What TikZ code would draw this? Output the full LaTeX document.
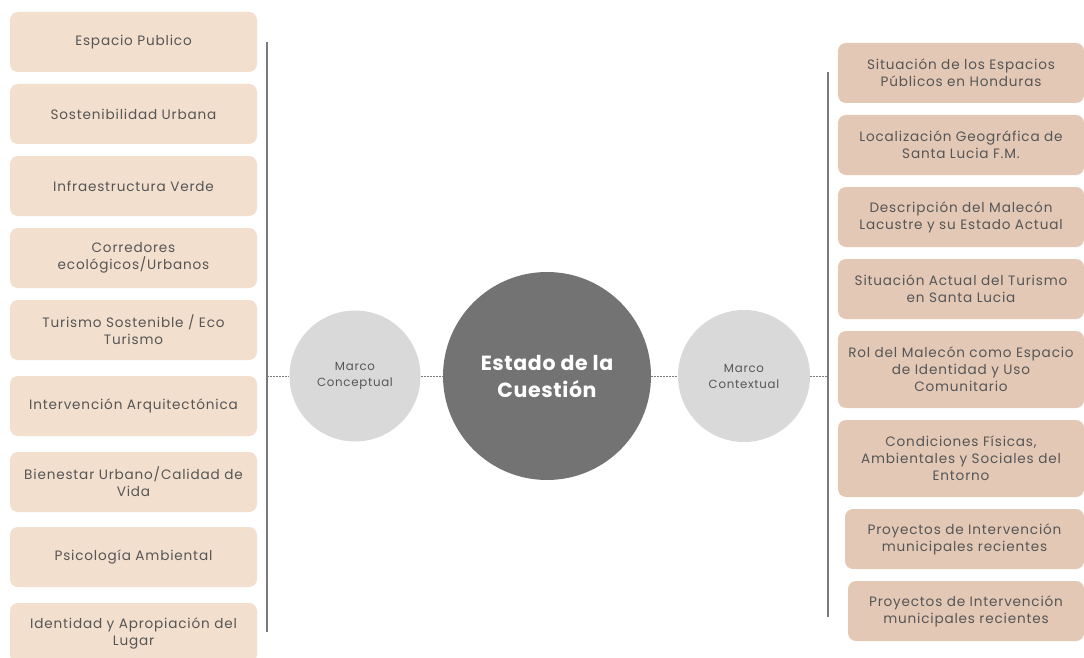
\documentclass[tikz,border=0pt]{standalone}
\usepackage{fontspec}
\setmainfont{Poppins}[LetterSpace=6]
\newfontfamily\titlefont{Poppins}[LetterSpace=3]
\usetikzlibrary{positioning}

\definecolor{peach}{HTML}{F2DFCE}
\definecolor{sand}{HTML}{E3C8B6}
\definecolor{darkcirc}{HTML}{737373}
\definecolor{lightcirc}{HTML}{D9D9D9}
\definecolor{txtgray}{HTML}{565656}
\definecolor{linegray}{HTML}{7A7A7A}

\begin{document}
\begin{tikzpicture}[x=1pt,y=-1pt,font=\fontsize{13.6}{17}\selectfont,
semithick]

\tikzstyle{leftbox}=[fill=peach,draw=none,rounded corners=8pt,text=txtgray,
  minimum width=247pt,minimum height=60pt,align=center]
\tikzstyle{rightbox}=[fill=sand,draw=none,rounded corners=8pt,text=txtgray,
  minimum width=246pt,minimum height=60pt,align=center]
\tikzstyle{marco}=[circle,fill=lightcirc,draw=none,text=txtgray,
  minimum size=131pt,align=center,font=\fontsize{11.8}{16}\selectfont]
\tikzstyle{rail}=[draw=linegray,line width=1.2pt]
\tikzstyle{link}=[draw=linegray,dashed,dash pattern=on 2pt off 1pt,line width=0.8pt]

\useasboundingbox (0,0) rectangle (1084,658);

% marco conceptual
\node[leftbox] (esp)  at (133.5,42)  {Espacio Publico};
\node[leftbox] (sost) at (133.5,114) {Sostenibilidad Urbana};
\node[leftbox] (infra) at (133.5,186) {Infraestructura Verde};
\node[leftbox] (corr) at (133.5,258) {Corredores\\ecológicos/Urbanos};
\node[leftbox] (tur)  at (133.5,330) {Turismo Sostenible / Eco\\Turismo};
\node[leftbox] (arq)  at (133.5,406) {Intervención Arquitectónica};
\node[leftbox] (bien) at (133.5,482) {Bienestar Urbano/Calidad de\\Vida};
\node[leftbox] (psi)  at (133.5,557) {Psicología Ambiental};
\node[leftbox] (ident) at (133.5,633) {Identidad y Apropiación del\\Lugar};

% marco contextual
\node[rightbox] (sit)  at (961,73)  {Situación de los Espacios\\Públicos en Honduras};
\node[rightbox] (loc)  at (961,145) {Localización Geográfica de\\Santa Lucia F.M.};
\node[rightbox] (mal)  at (961,217) {Descripción del Malecón\\Lacustre y su Estado Actual};
\node[rightbox] (turs) at (961,289) {Situación Actual del Turismo\\en Santa Lucia};
\node[rightbox,minimum height=77pt] (rol) at (961,369.5) {Rol del Malecón como Espacio\\de Identidad y Uso\\Comunitario};
\node[rightbox,minimum height=77pt] (cond) at (961,458.5) {Condiciones Físicas,\\Ambientales y Sociales del\\Entorno};
\node[rightbox,minimum width=239pt] (proy) at (964.5,539) {Proyectos de Intervención\\municipales recientes};
\node[rightbox,minimum width=236pt] (proyb) at (966,611) {Proyectos de Intervención\\municipales recientes};

% centro
\node[circle,fill=darkcirc,draw=none,text=white,minimum size=208pt,align=center,
  font=\titlefont\fontsize{20.5}{27}\selectfont\bfseries] (estado) at (547,376) {Estado de la\\Cuestión};
\node[marco] (conc) at (355,376) {Marco\\Conceptual};
\node[marco,minimum size=132pt] (ctx) at (744,376) {Marco\\Contextual};

\coordinate (lt) at (267,42);
\coordinate (lb) at (267,632);
\coordinate (lm) at (267,376);
\coordinate (rt) at (828,72);
\coordinate (rb) at (828,617);
\coordinate (rm) at (828,376);

\draw[rail] (lt) -- (lb);
\draw[rail] (rt) -- (rb);
\draw[link] (lm) -- (conc.west);
\draw[link] (conc.east) -- (estado.west);
\draw[link] (estado.east) -- (ctx.west);
\draw[link] (ctx.east) -- (rm);
\end{tikzpicture}
\end{document}
